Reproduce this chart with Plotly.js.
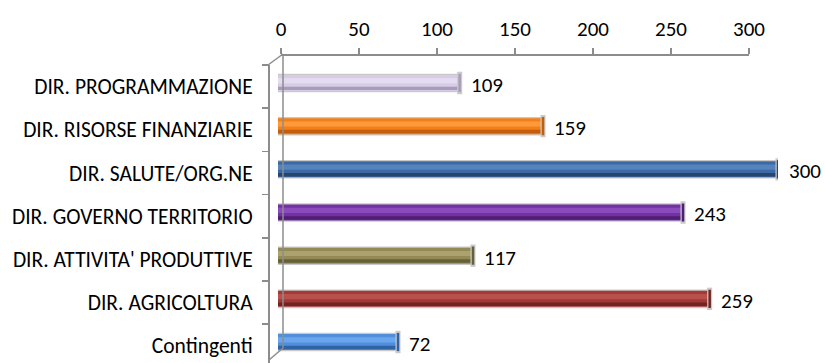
<!DOCTYPE html>
<html>
<head>
<meta charset="utf-8">
<script src="https://cdn.plot.ly/plotly-3.0.1.min.js"></script>
<style>
  html, body { margin: 0; padding: 0; background: #ffffff; }
  #chart { width: 825px; height: 363px; }
</style>
</head>
<body>
<div id="chart"></div>
<script>
// Staff count per directorate
const categories = [
  "DIR. PROGRAMMAZIONE",
  "DIR. RISORSE FINANZIARIE",
  "DIR. SALUTE/ORG.NE",
  "DIR. GOVERNO TERRITORIO",
  "DIR. ATTIVITA' PRODUTTIVE",
  "DIR. AGRICOLTURA",
  "Contingenti"
];
const values = [109, 159, 300, 243, 117, 259, 72];
const tickValues = [0, 50, 100, 150, 200, 250, 300];

// Cylinder shading: body, highlight and shadow tones per bar
const bodyColors  = ["#d6cce6", "#f57f17", "#3d6aa3", "#7331a3", "#948a56", "#a23a36", "#4f8fdc"];
const lightColors = ["#e4dcf0", "#ff9a3c", "#5583bd", "#8a4bbd", "#aba270", "#b9504b", "#6aa6ee"];
const darkColors  = ["#a89cb8", "#c25e0c", "#27466f", "#4e1f72", "#66603a", "#702522", "#2f63a5"];

const W = 825, H = 363;
const px = v => v / W;          // horizontal pixel -> paper fraction
const py = v => (H - v) / H;    // vertical pixel -> paper fraction

const FONT = "Carlito, Lato, sans-serif";
const AXIS_GREY = "#8c8c8c";

function barLayer(colors, width, offset) {
  return {
    type: "bar", orientation: "h",
    x: values, y: categories,
    xaxis: "x", yaxis: "y",
    width: width, offset: offset,
    marker: { color: colors, line: { width: 0 } },
    hoverinfo: "skip", showlegend: false
  };
}

const rim = categories.map(() => "#c9c9c9");

const traces = [
  barLayer(rim, 0.43, -0.215),
  barLayer(bodyColors, 0.37, -0.185),
  barLayer(lightColors, 0.12, -0.11),
  barLayer(darkColors, 0.08, 0.085),
  // rounded cap at the end of each cylinder
  {
    type: "scatter", mode: "markers",
    x: values, y: categories, xaxis: "x", yaxis: "y",
    marker: { symbol: "line-ns", size: 16, line: { width: 5, color: rim } },
    hoverinfo: "skip", showlegend: false
  },
  {
    type: "scatter", mode: "markers",
    x: values, y: categories, xaxis: "x", yaxis: "y",
    marker: { symbol: "line-ns", size: 13, line: { width: 2.5, color: darkColors } },
    hoverinfo: "skip", showlegend: false
  },
  // carries the top scale and the front category axis
  {
    type: "scatter", mode: "markers",
    x: values, y: categories, xaxis: "x2", yaxis: "y2",
    marker: { opacity: 0 }, hoverinfo: "skip", showlegend: false
  }
];

const annotations = values.map((v, i) => ({
  x: v, y: categories[i], xref: "x", yref: "y",
  text: String(v), showarrow: false,
  xanchor: "left", yanchor: "middle", xshift: 9, yshift: -2,
  font: { family: FONT, size: 21, color: "#000000" }
}));

const line = (x0, y0, x1, y1) => ({
  type: "line", xref: "paper", yref: "paper",
  x0: px(x0), y0: py(y0), x1: px(x1), y1: py(y1),
  line: { color: AXIS_GREY, width: 1.5 }
});

const layout = {
  width: W, height: H,
  margin: { l: 0, r: 0, t: 0, b: 0 },
  paper_bgcolor: "#ffffff", plot_bgcolor: "rgba(0,0,0,0)",
  barmode: "overlay",
  showlegend: false,
  font: { family: FONT, color: "#000000" },
  xaxis: {
    domain: [px(278), px(778)], range: [0, 300],
    visible: false, fixedrange: true
  },
  yaxis: {
    domain: [0, py(61.4)], range: [6.486, -0.5],
    type: "category", categoryorder: "array", categoryarray: categories,
    visible: false, fixedrange: true
  },
  xaxis2: {
    domain: [px(281), px(749)], range: [0, 300],
    anchor: "free", position: py(54), side: "top",
    tickvals: tickValues, ticktext: tickValues.map(String),
    showline: true, linecolor: AXIS_GREY, linewidth: 1.5,
    ticks: "outside", ticklen: 6, tickcolor: AXIS_GREY, tickwidth: 1.5,
    showgrid: false, zeroline: false,
    tickfont: { family: FONT, size: 21, color: "#000000" },
    ticklabelstandoff: 4,
    fixedrange: true
  },
  yaxis2: {
    domain: [0, py(65)], range: [6.398, -0.5],
    type: "category", categoryorder: "array", categoryarray: categories,
    anchor: "free", position: px(268), side: "left",
    showline: true, linecolor: AXIS_GREY, linewidth: 1.5,
    ticks: "outside", ticklen: 6, tickcolor: AXIS_GREY, tickwidth: 1.5,
    tickson: "boundaries",
    showgrid: false, zeroline: false,
    tickfont: { family: FONT, size: 21.5, color: "#000000" },
    ticklabelstandoff: 11,
    fixedrange: true
  },
  shapes: [
    line(283, 54, 283, 348),   // back wall edge
    line(268, 65, 283, 54),    // top depth edge
    line(283, 348, 269, 360)   // bottom depth edge
  ],
  annotations: annotations
};

Plotly.newPlot("chart", traces, layout, { displayModeBar: false, staticPlot: true });
</script>
</body>
</html>
